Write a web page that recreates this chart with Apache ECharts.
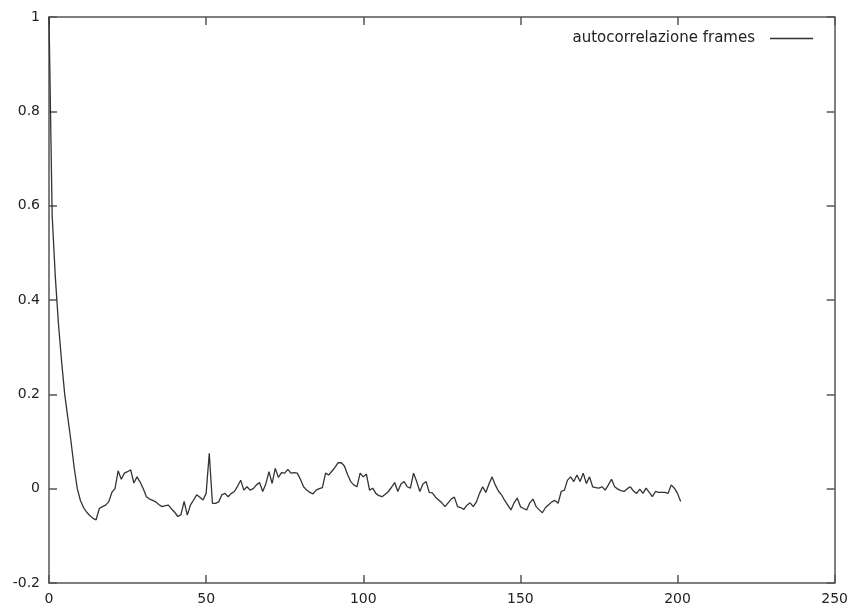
<!DOCTYPE html>
<html>
<head>
<meta charset="utf-8">
<script src="https://cdn.jsdelivr.net/npm/echarts@6/dist/echarts.min.js"></script>
<style>
  html, body { margin: 0; padding: 0; background: #fff; }
  #chart { width: 851px; height: 610px; }
</style>
</head>
<body>
<div id="chart"></div>
<script>
var seriesName = 'autocorrelazione frames';

// autocorrelation values, lag 0..201
var acf = [
    1.0, 0.58, 0.45, 0.35, 0.27, 0.20, 0.15, 0.10, 0.045, 0.0,
    -0.025, -0.04, -0.05, -0.057, -0.063, -0.066, -0.042, -0.038, -0.035, -0.028,
    -0.008, 0.0, 0.038, 0.02, 0.033, 0.036, 0.04, 0.012, 0.025, 0.014,
    0.0, -0.017, -0.022, -0.025, -0.028, -0.034, -0.038, -0.036, -0.035, -0.043,
    -0.05, -0.059, -0.055, -0.027, -0.056, -0.035, -0.024, -0.013, -0.018, -0.024,
    -0.01, 0.075, -0.031, -0.031, -0.028, -0.013, -0.01, -0.017, -0.01, -0.006,
    0.005, 0.018, -0.003, 0.004, -0.003, 0.0, 0.008, 0.013, -0.006, 0.01,
    0.036, 0.011, 0.043, 0.024, 0.034, 0.033, 0.041, 0.033, 0.034, 0.033,
    0.02, 0.004, -0.003, -0.008, -0.011, -0.003, 0.0, 0.002, 0.033, 0.029,
    0.037, 0.045, 0.055, 0.055, 0.048, 0.03, 0.015, 0.008, 0.004, 0.033,
    0.025, 0.031, -0.003, 0.001, -0.01, -0.015, -0.017, -0.012, -0.006, 0.003,
    0.013, -0.006, 0.01, 0.015, 0.004, 0.001, 0.033, 0.015, -0.006, 0.01,
    0.015, -0.008, -0.009, -0.018, -0.024, -0.03, -0.038, -0.03, -0.022, -0.018,
    -0.038, -0.04, -0.044, -0.035, -0.03, -0.038, -0.028, -0.01, 0.004, -0.008,
    0.01, 0.025, 0.008, -0.005, -0.013, -0.025, -0.035, -0.045, -0.03, -0.02,
    -0.038, -0.042, -0.045, -0.03, -0.022, -0.038, -0.045, -0.051, -0.04, -0.034,
    -0.028, -0.025, -0.031, -0.006, -0.003, 0.018, 0.025, 0.015, 0.029, 0.015,
    0.033, 0.011, 0.025, 0.004, 0.002, 0.001, 0.004, -0.003, 0.008, 0.02,
    0.004, -0.001, -0.004, -0.006, 0.0, 0.004, -0.005, -0.01, -0.001, -0.01,
    0.001, -0.008, -0.017, -0.006, -0.008, -0.008, -0.008, -0.01, 0.008, 0.001,
    -0.01, -0.027
];

var data = [];
for (var i = 0; i < acf.length; i++) {
    data.push([i, acf[i]]);
}

var myChart = echarts.init(document.getElementById('chart'));

var axisLine = { show: true, onZero: false, lineStyle: { color: '#555', width: 1.5 } };
var axisTick = { show: true, inside: true, length: 8, lineStyle: { color: '#555', width: 1.5 } };
var labelStyle = { color: '#222', fontSize: 14, fontFamily: 'DejaVu Sans, sans-serif' };

var option = {
    animation: false,
    backgroundColor: '#fff',
    grid: {
        left: 49,
        right: 13,
        top: 17,
        bottom: 27,
        containLabel: false
    },
    legend: {
        data: [seriesName],
        right: 33,
        top: 26,
        align: 'right',
        icon: 'rect',
        itemWidth: 43,
        itemHeight: 1.5,
        itemStyle: { color: '#333' },
        textStyle: {
            color: '#222',
            fontSize: 15,
            fontFamily: 'DejaVu Sans, sans-serif',
            padding: [0, 10, 0, 0]
        }
    },
    xAxis: [{
        type: 'value',
        min: 0,
        max: 250,
        interval: 50,
        position: 'bottom',
        splitLine: { show: false },
        axisLine: axisLine,
        axisTick: axisTick,
        axisLabel: Object.assign({ margin: 9 }, labelStyle)
    }, {
        type: 'value',
        min: 0,
        max: 250,
        interval: 50,
        position: 'top',
        splitLine: { show: false },
        axisLine: axisLine,
        axisTick: axisTick,
        axisLabel: { show: false }
    }],
    yAxis: [{
        type: 'value',
        min: -0.2,
        max: 1,
        interval: 0.2,
        position: 'left',
        splitLine: { show: false },
        axisLine: axisLine,
        axisTick: axisTick,
        axisLabel: Object.assign({
            margin: 9,
            formatter: function (v) { return String(+v.toFixed(1)); }
        }, labelStyle)
    }, {
        type: 'value',
        min: -0.2,
        max: 1,
        interval: 0.2,
        position: 'right',
        splitLine: { show: false },
        axisLine: axisLine,
        axisTick: axisTick,
        axisLabel: { show: false }
    }],
    series: [{
        name: seriesName,
        type: 'line',
        data: data,
        showSymbol: false,
        symbol: 'none',
        lineStyle: { color: '#333', width: 1.3 },
        itemStyle: { color: '#333' }
    }]
};

myChart.setOption(option);
</script>
</body>
</html>
